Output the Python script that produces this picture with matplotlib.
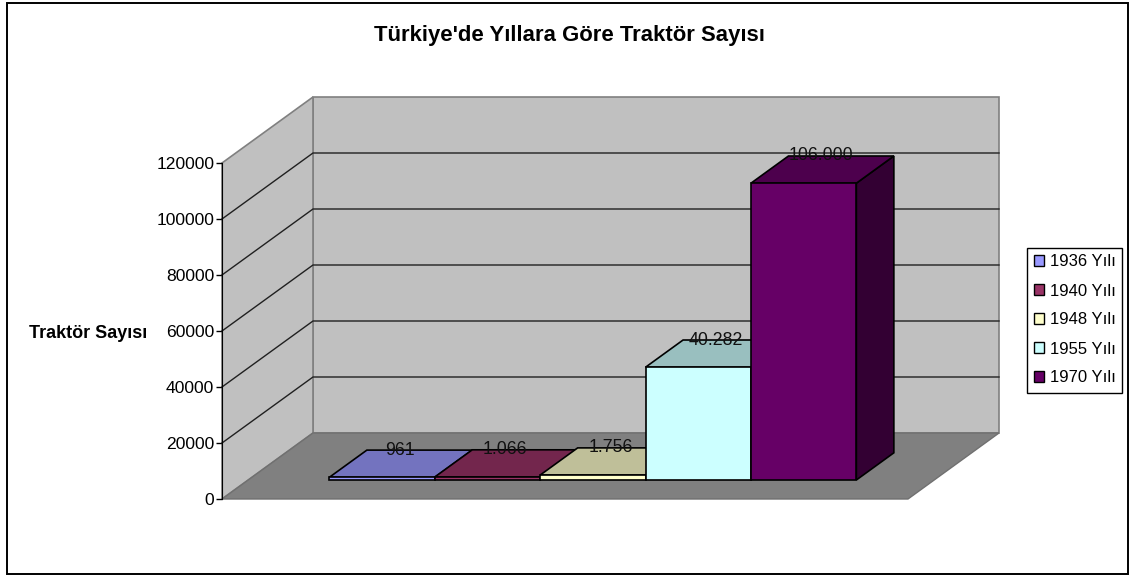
import matplotlib
matplotlib.use('Agg')
import matplotlib.pyplot as plt
from matplotlib.patches import Polygon, Rectangle

plt.rcParams['font.family'] = ['Liberation Sans', 'DejaVu Sans']

# Data
years = ['1936 Yılı', '1940 Yılı', '1948 Yılı', '1955 Yılı', '1970 Yılı']
tractors = [961, 1066, 1756, 40282, 106000]
yticks = [0, 20000, 40000, 60000, 80000, 100000, 120000]

# front, top, side colours for each series
front_colors = ['#9999FF', '#993366', '#FFFFCC', '#CCFFFF', '#660066']
top_colors = ['#7373BF', '#73264D', '#BFBF99', '#99BFBF', '#4D004D']
side_colors = ['#4D4D80', '#4D1A33', '#808066', '#668080', '#330033']

# Scale of the axes, in pixels per data unit
W, H = 1134, 575
px_x = 105.4        # one category
px_y = 336 / 120000
x0_px, y0_px = 222, 499

# Oblique projection of the depth axis
depth_x = 91 / px_x
depth_y = 66 / px_y
floor_w = 686 / px_x
bar_start = 0.77
bar_d0, bar_d1 = 0.288, 0.70


def proj(x, y, d):
    return (x + d * depth_x, y + d * depth_y)


fig = plt.figure(figsize=(W / 100, H / 100), dpi=100)
ax = fig.add_axes([0, 0, 1, 1])
ax.patch.set_visible(False)
ax.set_xlim(-x0_px / px_x, (W - x0_px) / px_x)
ax.set_ylim(-(H - y0_px) / px_y, y0_px / px_y)

# Outer frame
fig.add_artist(Rectangle((7 / W, 1 - 573.5 / H), 1121 / W, 571 / H, transform=fig.transFigure,
                         fc='none', ec='black', lw=1.4))

# Walls and floor
top = yticks[-1]
ax.add_patch(Polygon([proj(0, 0, 1), proj(floor_w, 0, 1), proj(floor_w, top, 1), proj(0, top, 1)],
                     fc='#C0C0C0', ec='#808080', lw=1.2, zorder=1))
ax.add_patch(Polygon([proj(0, 0, 0), proj(0, 0, 1), proj(0, top, 1), proj(0, top, 0)],
                     fc='#C0C0C0', ec='#808080', lw=1.2, zorder=1))
ax.add_patch(Polygon([proj(0, 0, 0), proj(floor_w, 0, 0), proj(floor_w, 0, 1), proj(0, 0, 1)],
                     fc='#808080', ec='#707070', lw=1, zorder=1))

# Gridlines
for v in yticks[1:-1]:
    ax.plot(*zip(proj(0, v, 0), proj(0, v, 1), proj(floor_w, v, 1)), color='#202020', lw=1, zorder=2)

# Bars
for i, v in enumerate(tractors):
    x1, x2 = bar_start + i, bar_start + i + 1
    ax.add_patch(Polygon([proj(x2, 0, bar_d0), proj(x2, 0, bar_d1), proj(x2, v, bar_d1), proj(x2, v, bar_d0)],
                         fc=side_colors[i], ec='black', lw=1.2, zorder=3 + i))
    ax.add_patch(Polygon([proj(x1, v, bar_d0), proj(x2, v, bar_d0), proj(x2, v, bar_d1), proj(x1, v, bar_d1)],
                         fc=top_colors[i], ec='black', lw=1.2, zorder=3 + i))
    ax.add_patch(Rectangle(proj(x1, 0, bar_d0), 1, v, fc=front_colors[i], ec='black', lw=1.2, zorder=3 + i))

# Data labels
for i, v in enumerate(tractors):
    xc = bar_start + i + 0.5
    lx = proj(xc, 0, (bar_d0 + bar_d1) / 2)[0]
    ly = proj(xc, v, bar_d1)[1]
    ax.text(lx - 0.01, ly, f'{v:,}'.replace(',', '.'), ha='center', va='center', fontsize=12.8, color='#111111', zorder=10)

# Value axis
for s in ['top', 'right', 'bottom']:
    ax.spines[s].set_visible(False)
ax.spines['left'].set_position(('data', 0))
ax.spines['left'].set_bounds(0, top)
ax.spines['left'].set_zorder(5)
ax.set_xticks([])
ax.set_yticks(yticks)
ax.tick_params(axis='y', length=4, width=1, pad=1.5, labelsize=12.6)

fig.text(569 / W, 1 - 35 / H, "Türkiye'de Yıllara Göre Traktör Sayısı", ha='center', va='center',
         fontsize=15.9, fontweight='bold')
fig.text(88 / W, 1 - 333 / H, 'Traktör Sayısı', ha='center', va='center', fontsize=13, fontweight='bold')

# Legend
handles = [Rectangle((0, 0), 1, 1, fc=c, ec='black', lw=1) for c in front_colors]
leg = ax.legend(handles, years, loc='center', bbox_to_anchor=(1074.5 / W, 1 - 320 / H),
                bbox_transform=fig.transFigure, fontsize=12, frameon=True, fancybox=False,
                edgecolor='black', framealpha=1, handlelength=0.6, handleheight=0.6,
                handletextpad=0.36, labelspacing=0.84, borderpad=0.42, borderaxespad=0)
leg.get_frame().set_linewidth(1)

fig.savefig('out.png', dpi=100)
